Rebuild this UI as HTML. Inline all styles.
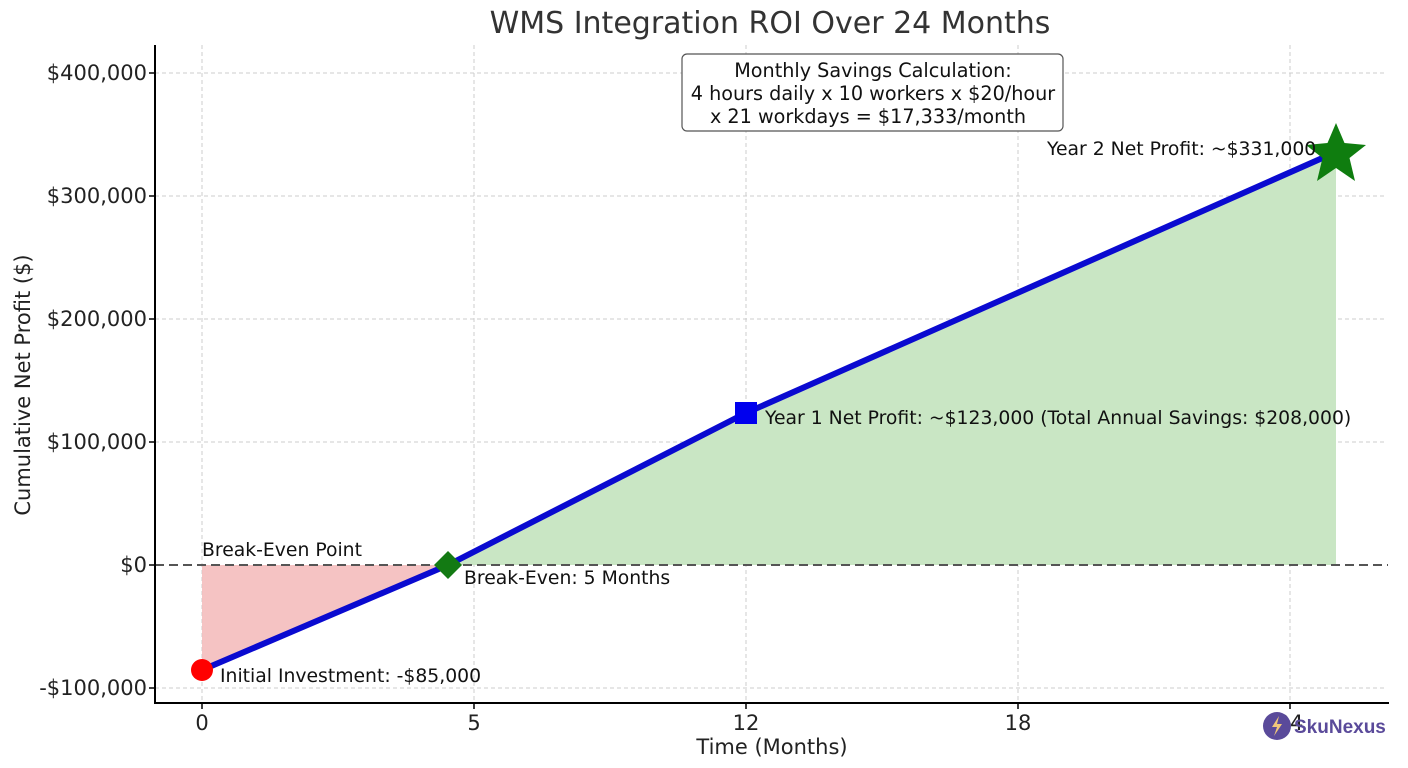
<!DOCTYPE html>
<html><head><meta charset="utf-8"><style>
html,body{margin:0;padding:0;background:#fff;}
svg{display:block;font-family:"DejaVu Sans","Liberation Sans",sans-serif;}
</style></head><body>
<svg width="1408" height="768" viewBox="0 0 1408 768" xmlns="http://www.w3.org/2000/svg">
<rect width="1408" height="768" fill="#fff"/>
<text x="770" y="33" font-size="30" text-anchor="middle" fill="#333">WMS Integration ROI Over 24 Months</text>
<!-- grid -->
<g stroke="#ccc" stroke-width="1" stroke-dasharray="4,3">
<line x1="155" y1="73" x2="1384" y2="73"/>
<line x1="155" y1="196" x2="1384" y2="196"/>
<line x1="155" y1="319" x2="1384" y2="319"/>
<line x1="155" y1="442" x2="1384" y2="442"/>
<line x1="155" y1="688" x2="1384" y2="688"/>
<line x1="202" y1="45" x2="202" y2="703"/>
<line x1="474" y1="45" x2="474" y2="703"/>
<line x1="746" y1="45" x2="746" y2="703"/>
<line x1="1018" y1="45" x2="1018" y2="703"/>
<line x1="1290" y1="45" x2="1290" y2="703"/>
</g>
<!-- fills -->
<polygon points="202,565 448,565 202,670" fill="#f4bcbc" opacity="0.9"/>
<polygon points="448,565 746,413 1336,152 1336,565" fill="#c9e6c4"/>
<!-- zero line -->
<line x1="155" y1="565" x2="1388" y2="565" stroke="#555" stroke-width="2" stroke-dasharray="9,5"/>
<!-- main line -->
<polyline points="202,670 448,565 746,413 1336,152" fill="none" stroke="#0a0ad0" stroke-width="6"/>
<!-- markers -->
<circle cx="202" cy="670" r="11" fill="#f00"/>
<polygon points="448,551 462,565 448,579 434,565" fill="#137a13"/>
<rect x="735" y="402" width="22" height="22" fill="#0000ee"/>
<polygon points="1336,123 1344.5,143 1366,145 1349.5,158 1355,181 1336,168 1317,181 1322.5,158 1306,145 1327.5,143" fill="#0f7d0f"/>
<!-- axes -->
<line x1="155" y1="45" x2="155" y2="704" stroke="#000" stroke-width="2"/>
<line x1="154" y1="703" x2="1389" y2="703" stroke="#000" stroke-width="2"/>
<g stroke="#000" stroke-width="1.5">
<line x1="149" y1="73" x2="155" y2="73"/><line x1="149" y1="196" x2="155" y2="196"/><line x1="149" y1="319" x2="155" y2="319"/><line x1="149" y1="442" x2="155" y2="442"/><line x1="149" y1="565" x2="155" y2="565"/><line x1="149" y1="688" x2="155" y2="688"/>
<line x1="202" y1="703" x2="202" y2="709"/><line x1="474" y1="703" x2="474" y2="709"/><line x1="746" y1="703" x2="746" y2="709"/><line x1="1018" y1="703" x2="1018" y2="709"/><line x1="1290" y1="703" x2="1290" y2="709"/>
</g>
<g font-size="21" fill="#222" text-anchor="end">
<text x="147" y="80">$400,000</text><text x="147" y="203">$300,000</text><text x="147" y="326">$200,000</text><text x="147" y="449">$100,000</text><text x="147" y="572">$0</text><text x="147" y="695">-$100,000</text>
</g>
<g font-size="21" fill="#222" text-anchor="middle">
<text x="202" y="730">0</text><text x="474" y="730">5</text><text x="746" y="730">12</text><text x="1018" y="730">18</text><text x="1290" y="730">24</text>
</g>
<text x="772" y="754" font-size="21" text-anchor="middle" fill="#222">Time (Months)</text>
<text transform="translate(30,385) rotate(-90)" font-size="21" text-anchor="middle" fill="#222">Cumulative Net Profit ($)</text>
<!-- annotations -->
<g font-size="18.8" fill="#111">
<text x="202" y="556">Break-Even Point</text>
<text x="464" y="584">Break-Even: 5 Months</text>
<text x="220" y="682">Initial Investment: -$85,000</text>
<text x="765" y="424">Year 1 Net Profit: ~$123,000 (Total Annual Savings: $208,000)</text>
<text x="1047" y="155">Year 2 Net Profit: ~$331,000</text>
</g>
<rect x="682" y="54" width="381" height="77" rx="5" fill="#fff" stroke="#555" stroke-width="1.2"/>
<g font-size="19.2" fill="#111" text-anchor="middle">
<text x="873" y="77">Monthly Savings Calculation:</text>
<text x="873" y="100">4 hours daily x 10 workers x $20/hour</text>
<text x="868" y="123">x 21 workdays = $17,333/month</text>
</g>
<!-- logo -->
<circle cx="1277" cy="726" r="14" fill="#5a4a9a"/>
<path d="M1279,716 l-7,11 h5 l-3,9 l8,-12 h-5 z" fill="#f1c77a"/>
<text x="1294" y="733" font-family="Liberation Sans,sans-serif" font-size="19" font-weight="bold" fill="#5a4a9a">SkuNexus</text>
</svg>
</body></html>
